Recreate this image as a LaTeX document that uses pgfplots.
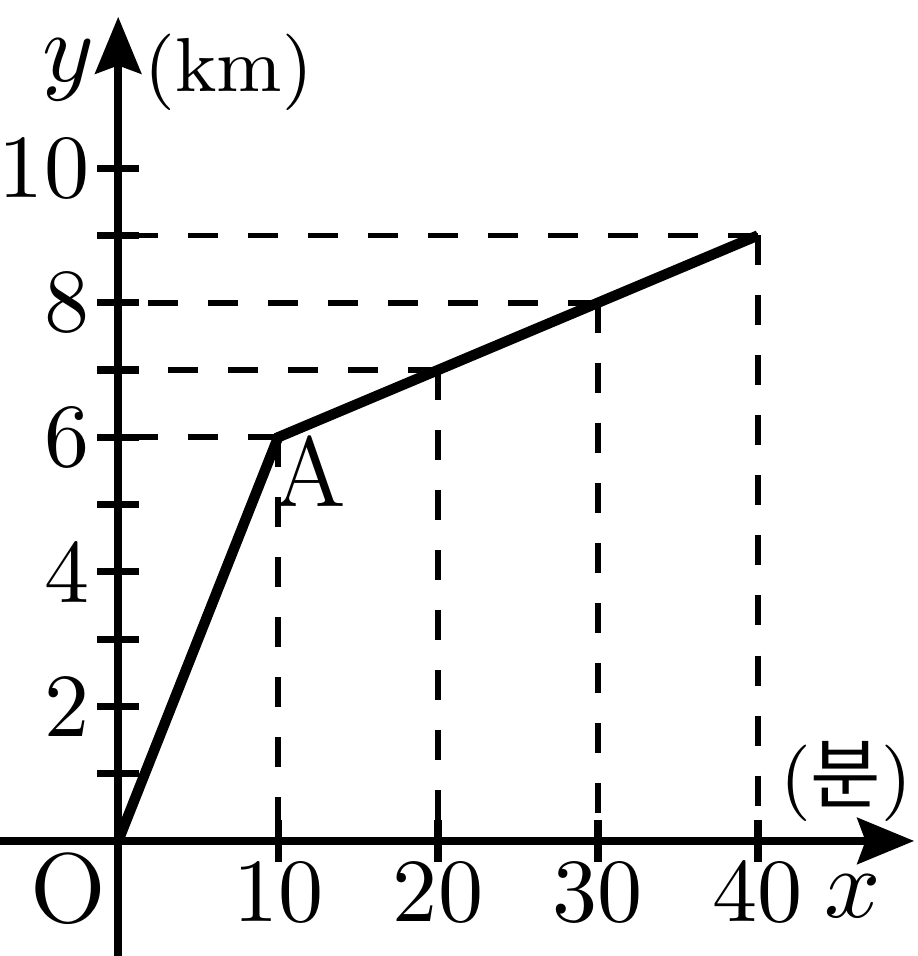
\documentclass[border=0pt]{standalone}
\usepackage{fontspec}
\usepackage{pgfplots}
\pgfplotsset{compat=1.18}
\usetikzlibrary{arrows.meta}
\newfontfamily\krfont{Noto Sans CJK KR}

\begin{document}
\begin{tikzpicture}
\begin{axis}[
  x=1.775pt, y=7.467pt,
  axis lines=middle,
  xmin=-7.39, xmax=49.77, ymin=-1.71, ymax=12.25,
  axis line style={line width=0.85pt, -{Stealth[length=6.3pt,width=5.1pt,inset=0.9pt]}},
  xtick={10,20,30,40},
  ytick={1,2,3,4,5,6,7,8,9,10},
  yticklabels={,2,,4,,6,,8,,10},
  tick align=center,
  major tick length=4.6pt,
  tick style={line width=0.8pt, black},
  xticklabel style={yshift=3.3pt},
  yticklabel style={xshift=2.6pt},
  clip=false,
]
\addplot[black, line width=0.65pt, dash pattern=on 3.33pt off 3.33pt] coordinates {(10,6) (0,6)};
\addplot[black, line width=0.65pt, dash pattern=on 3.33pt off 3.33pt] coordinates {(10,6) (10,0)};
\addplot[black, line width=0.65pt, dash pattern=on 3.33pt off 3.33pt] coordinates {(20,7) (0,7)};
\addplot[black, line width=0.65pt, dash pattern=on 3.33pt off 3.33pt] coordinates {(20,7) (20,0)};
\addplot[black, line width=0.65pt, dash pattern=on 3.33pt off 3.33pt] coordinates {(30,8) (0,8)};
\addplot[black, line width=0.65pt, dash pattern=on 3.33pt off 3.33pt] coordinates {(30,8) (30,0)};
\addplot[black, line width=0.65pt, dash pattern=on 3.33pt off 3.33pt] coordinates {(40,9) (0,9)};
\addplot[black, line width=0.65pt, dash pattern=on 3.33pt off 3.33pt] coordinates {(40,9) (40,0)};
\addplot[black, line width=1.15pt] coordinates {(0,0) (10,6) (40,9)};
\node[font=\fontsize{11}{13}\selectfont] at (axis cs:-3.13,11.46) {$y$};
\node[font=\fontsize{8.5}{10}\selectfont] at (axis cs:6.9,11.43) {(km)};
\node[font=\fontsize{11}{13}\selectfont] at (axis cs:-3.13,-0.71) {O};
\node[font=\fontsize{11}{13}\selectfont] at (axis cs:12.0,5.49) {A};
\node[font=\fontsize{11}{13}\selectfont] at (axis cs:45.95,-0.82) {$x$};
\node[font=\fontsize{8.5}{10}\selectfont] at (axis cs:45.5,0.89) {({\krfont 분})};
\coordinate (bbl) at (axis cs:-7.39,-1.71);
\coordinate (btr) at (axis cs:50.0,12.5);
\end{axis}
\pgfresetboundingbox
\path[use as bounding box] (bbl) rectangle (btr);
\end{tikzpicture}
\end{document}
